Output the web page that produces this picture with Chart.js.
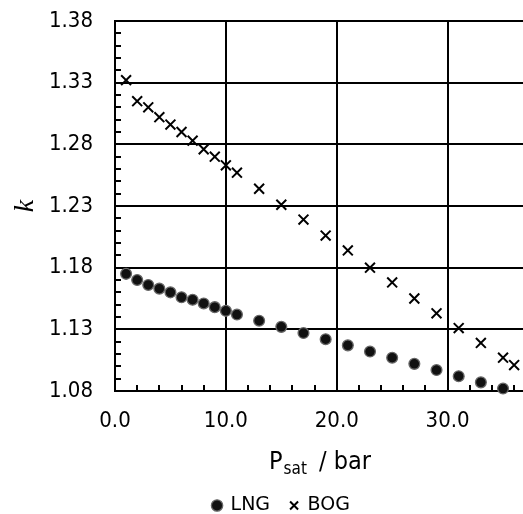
<!DOCTYPE html>
<html>
<head>
<meta charset="utf-8">
<script src="https://cdn.jsdelivr.net/npm/chart.js@4.4.0/dist/chart.umd.min.js"></script>
<style>
  body { margin: 0; background: #fff; }
</style>
</head>
<body>
<canvas id="kChart" width="523" height="514"></canvas>
<script>
// saturation pressure (bar) and heat capacity ratio k
const lngPressures = [1, 2, 3, 4, 5, 6, 7, 8, 9, 10, 11, 13, 15, 17, 19, 21, 23, 25, 27, 29, 31, 33, 35];
const lngK = [1.175, 1.170, 1.166, 1.163, 1.160, 1.156, 1.154, 1.151, 1.148, 1.145, 1.142,
              1.137, 1.132, 1.127, 1.122, 1.117, 1.112, 1.107, 1.102, 1.097, 1.092, 1.087, 1.082];
const bogPressures = [1, 2, 3, 4, 5, 6, 7, 8, 9, 10, 11, 13, 15, 17, 19, 21, 23, 25, 27, 29, 31, 33, 35, 36];
const bogK = [1.332, 1.315, 1.310, 1.302, 1.296, 1.290, 1.283, 1.276, 1.270, 1.263, 1.257,
              1.244, 1.231, 1.219, 1.206, 1.194, 1.180, 1.168, 1.155, 1.143, 1.131, 1.119, 1.107, 1.101];
const xLabels = [0, 10, 20, 30];
const yLabels = [1.08, 1.13, 1.18, 1.23, 1.28, 1.33, 1.38];

const FONT = 'DejaVu Sans Condensed';
const isXLabel = v => xLabels.includes(Math.round(v * 10) / 10);
const isYLabel = v => yLabels.some(l => Math.abs(l - v) < 1e-6);

// short tick marks pointing into the plot
const innerTicks = {
  id: 'innerTicks',
  beforeDatasetsDraw(chart) {
    const {ctx, chartArea: a, scales: {x, y}} = chart;
    ctx.save();
    ctx.strokeStyle = '#000';
    ctx.lineWidth = 2;
    ctx.beginPath();
    x.ticks.forEach(t => {
      const px = Math.round(x.getPixelForValue(t.value));
      ctx.moveTo(px, a.bottom);
      ctx.lineTo(px, a.bottom - 6);
    });
    y.ticks.forEach(t => {
      const py = Math.round(y.getPixelForValue(t.value));
      ctx.moveTo(a.left, py);
      ctx.lineTo(a.left + 6, py);
    });
    ctx.stroke();
    ctx.restore();
  }
};

// x axis title with subscript
const pressureTitle = {
  id: 'pressureTitle',
  afterDraw(chart) {
    const {ctx, chartArea: a} = chart;
    const parts = [
      {t: 'P', size: 25, dy: 0, gap: 0},
      {t: 'sat', size: 17, dy: 5, gap: 1},
      {t: '/ bar', size: 25, dy: 0, gap: 12}
    ];
    ctx.save();
    ctx.fillStyle = '#000';
    ctx.textBaseline = 'alphabetic';
    let total = 0;
    parts.forEach(p => {
      ctx.font = p.size + 'px "' + FONT + '"';
      p.w = ctx.measureText(p.t).width;
      total += p.w + p.gap;
    });
    let cx = 320 - total / 2;
    const base = a.bottom + 78;
    parts.forEach(p => {
      ctx.font = p.size + 'px "' + FONT + '"';
      cx += p.gap;
      ctx.fillText(p.t, cx, base + p.dy);
      cx += p.w;
    });
    ctx.restore();
  }
};

// nudge the legend row to its place under the plot
const legendShift = {
  id: 'legendShift',
  afterLayout(chart) {
    const lg = chart.legend;
    lg.left += 20; lg.right += 20;
    lg.top += 11; lg.bottom += 11;
  }
};

new Chart(document.getElementById('kChart'), {
  type: 'scatter',
  data: {
    datasets: [
      {
        label: 'LNG',
        data: lngPressures.map((p, i) => ({x: p, y: lngK[i]})),
        pointStyle: 'circle',
        pointRadius: 5.4,
        backgroundColor: '#111',
        borderColor: '#666',
        borderWidth: 1.3,
        clip: false
      },
      {
        label: 'BOG',
        data: bogPressures.map((p, i) => ({x: p, y: bogK[i]})),
        pointStyle: 'crossRot',
        pointRadius: 7,
        backgroundColor: '#000',
        borderColor: '#000',
        borderWidth: 2,
        clip: false
      }
    ]
  },
  options: {
    responsive: false,
    animation: false,
    layout: {autoPadding: false, padding: {top: 21, right: 0, left: 0, bottom: 0}},
    plugins: {
      tooltip: {enabled: false},
      legend: {
        position: 'bottom',
        labels: {
          usePointStyle: true,
          boxWidth: 8,
          boxHeight: 8,
          padding: 20,
          color: '#000',
          font: {family: 'DejaVu Sans', size: 19}
        }
      }
    },
    scales: {
      x: {
        type: 'linear',
        min: 0,
        max: 36.8,
        afterFit: s => { s.height = 74; s.paddingLeft = 0; s.paddingRight = 0; },
        border: {color: '#000', width: 2},
        grid: {
          color: c => (c.tick && c.tick.value > 0 && isXLabel(c.tick.value)) ? '#000' : 'rgba(0,0,0,0)',
          lineWidth: 2,
          drawTicks: false
        },
        ticks: {
          stepSize: 2,
          includeBounds: false,
          autoSkip: false,
          maxRotation: 0,
          padding: 17,
          color: '#000',
          font: {family: FONT, size: 22},
          callback: v => isXLabel(v) ? v.toFixed(1) : ''
        }
      },
      y: {
        min: 1.08,
        max: 1.38,
        afterFit: s => { s.width = 115; s.paddingTop = 0; s.paddingBottom = 0; },
        border: {color: '#000', width: 2},
        grid: {
          color: c => (c.tick && isYLabel(c.tick.value)) ? '#000' : 'rgba(0,0,0,0)',
          lineWidth: 2,
          drawTicks: false
        },
        ticks: {
          stepSize: 0.01,
          maxTicksLimit: 100,
          autoSkip: false,
          padding: 22,
          color: '#000',
          font: {family: FONT, size: 22},
          callback: v => isYLabel(v) ? v.toFixed(2) : ''
        },
        title: {
          display: true,
          text: 'k',
          color: '#000',
          font: {family: 'Liberation Serif', style: 'italic', size: 28},
          padding: {top: 9, bottom: 0}
        }
      }
    }
  },
  plugins: [innerTicks, pressureTitle, legendShift]
});
</script>
</body>
</html>
